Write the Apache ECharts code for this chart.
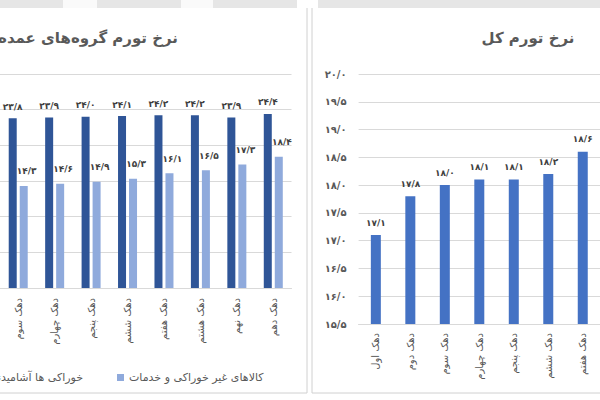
<!DOCTYPE html>
<html>
<head>
<meta charset="utf-8">
<script src="https://cdn.jsdelivr.net/npm/echarts@6/dist/echarts.min.js"></script>
<style>
html,body{margin:0;padding:0;background:#fff;overflow:hidden;}
#c{width:600px;height:400px;}
</style>
</head>
<body>
<div id="c"></div>
<script>
// ---- data ----
const groupCategories = ['دهک سوم','دهک چهارم','دهک پنجم','دهک ششم','دهک هفتم','دهک هشتم','دهک نهم','دهک دهم'];
const foodValues = [23.8, 23.9, 24.0, 24.1, 24.2, 24.2, 23.9, 24.4];
const nonFoodValues = [14.3, 14.6, 14.9, 15.3, 16.1, 16.5, 17.3, 18.4];
const totalCategories = ['دهک اول','دهک دوم','دهک سوم','دهک چهارم','دهک پنجم','دهک ششم','دهک هفتم'];
const totalValues = [17.1, 17.8, 18.0, 18.1, 18.1, 18.2, 18.6];
const foodName = 'خوراکی ها آشامیدنی ها';
const nonFoodName = 'کالاهای غیر خوراکی و خدمات';
const leftTitle = 'نرخ تورم گروه‌های عمده';
const rightTitle = 'نرخ تورم کل';

const faDigits = '۰۱۲۳۴۵۶۷۸۹';
const fa = v => Number(v).toFixed(1).replace('.', '/').replace(/[0-9]/g, d => faDigits[d]);

const FONT = '"DejaVu Sans", sans-serif';
const grey = '#595959';
const gridColor = '#d9d9d9';
const borderColor = '#d0d0d0';

const chart = echarts.init(document.getElementById('c'), null, {renderer: 'svg'});

const mkLabel = dist => ({show: true, position: 'top', distance: dist, fontSize: 9, fontWeight: 'bold', color: '#404040', fontFamily: FONT, formatter: p => fa(p.value)});
const legendText = {fontSize: 11, color: grey, fontFamily: FONT};

chart.setOption({
  animation: false,
  textStyle: {fontFamily: FONT},
  grid: [
    {left: -8.5, top: 74, width: 300, height: 214},
    {left: 358.6, top: 74, width: 257.8, height: 250}
  ],
  legend: [
    {data: [foodName], right: 512, top: 367, itemWidth: 7, itemHeight: 7, icon: 'rect', textStyle: legendText},
    {data: [nonFoodName], left: 112, top: 367, itemWidth: 7, itemHeight: 7, icon: 'rect', textStyle: legendText}
  ],
  xAxis: [
    {gridIndex: 0, type: 'category', data: groupCategories,
     axisTick: {show: false}, axisLine: {lineStyle: {color: gridColor}},
     axisLabel: {rotate: 90, interval: 0, margin: 10, fontSize: 10, color: grey, fontFamily: FONT}},
    {gridIndex: 1, type: 'category', data: totalCategories,
     axisTick: {show: false}, axisLine: {lineStyle: {color: gridColor}},
     axisLabel: {rotate: 90, interval: 0, margin: 9, fontSize: 10, color: grey, fontFamily: FONT}}
  ],
  yAxis: [
    {gridIndex: 0, type: 'value', min: 0, max: 30, interval: 5,
     axisLabel: {show: false}, axisLine: {show: false}, axisTick: {show: false},
     splitLine: {lineStyle: {color: gridColor}}},
    {gridIndex: 1, type: 'value', min: 15.5, max: 20, interval: 0.5,
     axisLine: {show: false}, axisTick: {show: false},
     axisLabel: {margin: 12, fontSize: 10, fontWeight: 'bold', color: grey, fontFamily: FONT, formatter: v => fa(v)},
     splitLine: {lineStyle: {color: gridColor}}}
  ],
  series: [
    {name: foodName, type: 'bar', xAxisIndex: 0, yAxisIndex: 0, data: foodValues,
     barWidth: 8, barGap: '37.5%', itemStyle: {color: '#2F5597'}, label: mkLabel(7)},
    {name: nonFoodName, type: 'bar', xAxisIndex: 0, yAxisIndex: 0, data: nonFoodValues,
     barWidth: 8, barGap: '37.5%', itemStyle: {color: '#8FAADC'}, label: Object.assign(mkLabel(10), {offset: [3, 0]})},
    {name: 'total', type: 'bar', xAxisIndex: 1, yAxisIndex: 1, data: totalValues,
     barWidth: 10, itemStyle: {color: '#4472C4'}, label: mkLabel(8)}
  ],
  graphic: [
    {type: 'rect', shape: {x: 0, y: 0, width: 600, height: 8}, style: {fill: '#e6e6e6'}, z: 100},
    {type: 'rect', shape: {x: 63, y: 0, width: 34, height: 8}, style: {fill: '#fafafa'}, z: 101},
    {type: 'rect', shape: {x: 181, y: 0, width: 32, height: 8}, style: {fill: '#fafafa'}, z: 101},
    {type: 'rect', shape: {x: 297, y: 0, width: 21, height: 8}, style: {fill: '#ffffff'}, z: 101},
    {type: 'line', shape: {x1: 307, y1: 8, x2: 307, y2: 393}, style: {stroke: borderColor, lineWidth: 1}, z: 100},
    {type: 'line', shape: {x1: 312, y1: 8, x2: 312, y2: 393}, style: {stroke: borderColor, lineWidth: 1}, z: 100},
    {type: 'line', shape: {x1: 0, y1: 393, x2: 307, y2: 393}, style: {stroke: borderColor, lineWidth: 1}, z: 100},
    {type: 'line', shape: {x1: 312, y1: 393, x2: 600, y2: 393}, style: {stroke: borderColor, lineWidth: 1}, z: 100},
    {type: 'text', x: 178, y: 38, style: {text: leftTitle, align: 'right', verticalAlign: 'middle', font: 'bold 15px ' + FONT, fill: grey}, z: 100},
    {type: 'text', x: 528, y: 38, style: {text: rightTitle, align: 'center', verticalAlign: 'middle', font: 'bold 15px ' + FONT, fill: grey}, z: 100}
  ]
});
</script>
</body>
</html>
